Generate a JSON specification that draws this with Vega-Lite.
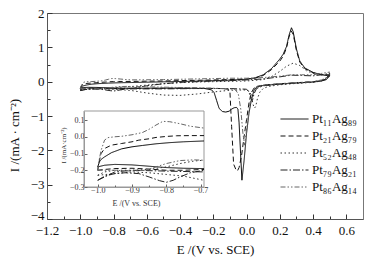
{
"$schema": "https://vega.github.io/schema/vega-lite/v6.json",
"width": 316, "height": 206,
"autosize": "none",
"padding": {"left": 47, "top": 13, "right": 17, "bottom": 42},
"background": "white",
"config": {
  "font": "Liberation Serif",
  "view": {"stroke": "#777", "strokeWidth": 1},
  "axis": {"grid": false, "labelFont": "Liberation Serif", "titleFont": "Liberation Serif", "titleFontWeight": "normal", "labelColor": "#111", "titleColor": "#111", "labelOverlap": false, "labelFlush": false}
},
"datasets": {
"cv": [
{"s":"Pt₁₁Ag₈₉","b":"f","E":-1.0,"I":-0.18},{"s":"Pt₁₁Ag₈₉","b":"f","E":-0.995,"I":-0.15},{"s":"Pt₁₁Ag₈₉","b":"f","E":-0.99,"I":-0.135},{"s":"Pt₁₁Ag₈₉","b":"f","E":-0.98,"I":-0.12},{"s":"Pt₁₁Ag₈₉","b":"f","E":-0.96,"I":-0.095},{"s":"Pt₁₁Ag₈₉","b":"f","E":-0.93,"I":-0.072},{"s":"Pt₁₁Ag₈₉","b":"f","E":-0.9,"I":-0.06},{"s":"Pt₁₁Ag₈₉","b":"f","E":-0.87,"I":-0.052},{"s":"Pt₁₁Ag₈₉","b":"f","E":-0.83,"I":-0.042},{"s":"Pt₁₁Ag₈₉","b":"f","E":-0.79,"I":-0.035},{"s":"Pt₁₁Ag₈₉","b":"f","E":-0.75,"I":-0.03},{"s":"Pt₁₁Ag₈₉","b":"f","E":-0.69,"I":-0.025},{"s":"Pt₁₁Ag₈₉","b":"f","E":-0.6,"I":-0.015},{"s":"Pt₁₁Ag₈₉","b":"f","E":-0.5,"I":-0.005},{"s":"Pt₁₁Ag₈₉","b":"f","E":-0.4,"I":0.005},{"s":"Pt₁₁Ag₈₉","b":"f","E":-0.3,"I":0.015},{"s":"Pt₁₁Ag₈₉","b":"f","E":-0.2,"I":0.03},{"s":"Pt₁₁Ag₈₉","b":"f","E":-0.1,"I":0.045},{"s":"Pt₁₁Ag₈₉","b":"f","E":0.0,"I":0.07},{"s":"Pt₁₁Ag₈₉","b":"f","E":0.05,"I":0.11},{"s":"Pt₁₁Ag₈₉","b":"f","E":0.1,"I":0.2},{"s":"Pt₁₁Ag₈₉","b":"f","E":0.15,"I":0.38},{"s":"Pt₁₁Ag₈₉","b":"f","E":0.2,"I":0.66},{"s":"Pt₁₁Ag₈₉","b":"f","E":0.22,"I":0.8},{"s":"Pt₁₁Ag₈₉","b":"f","E":0.24,"I":1.02},{"s":"Pt₁₁Ag₈₉","b":"f","E":0.255,"I":1.35},{"s":"Pt₁₁Ag₈₉","b":"f","E":0.27,"I":1.57},{"s":"Pt₁₁Ag₈₉","b":"f","E":0.28,"I":1.46},{"s":"Pt₁₁Ag₈₉","b":"f","E":0.29,"I":1.2},{"s":"Pt₁₁Ag₈₉","b":"f","E":0.3,"I":0.95},{"s":"Pt₁₁Ag₈₉","b":"f","E":0.32,"I":0.6},{"s":"Pt₁₁Ag₈₉","b":"f","E":0.35,"I":0.4},{"s":"Pt₁₁Ag₈₉","b":"f","E":0.4,"I":0.27},{"s":"Pt₁₁Ag₈₉","b":"f","E":0.45,"I":0.2},{"s":"Pt₁₁Ag₈₉","b":"f","E":0.5,"I":0.17},
{"s":"Pt₁₁Ag₈₉","b":"r","E":0.5,"I":0.17},{"s":"Pt₁₁Ag₈₉","b":"r","E":0.48,"I":0.06},{"s":"Pt₁₁Ag₈₉","b":"r","E":0.45,"I":0.02},{"s":"Pt₁₁Ag₈₉","b":"r","E":0.4,"I":-0.01},{"s":"Pt₁₁Ag₈₉","b":"r","E":0.3,"I":-0.04},{"s":"Pt₁₁Ag₈₉","b":"r","E":0.2,"I":-0.07},{"s":"Pt₁₁Ag₈₉","b":"r","E":0.1,"I":-0.11},{"s":"Pt₁₁Ag₈₉","b":"r","E":0.06,"I":-0.16},{"s":"Pt₁₁Ag₈₉","b":"r","E":0.045,"I":-0.25},{"s":"Pt₁₁Ag₈₉","b":"r","E":0.03,"I":-0.5},{"s":"Pt₁₁Ag₈₉","b":"r","E":0.015,"I":-0.9},{"s":"Pt₁₁Ag₈₉","b":"r","E":0.0,"I":-1.5},{"s":"Pt₁₁Ag₈₉","b":"r","E":-0.015,"I":-2.3},{"s":"Pt₁₁Ag₈₉","b":"r","E":-0.028,"I":-2.87},{"s":"Pt₁₁Ag₈₉","b":"r","E":-0.036,"I":-2.1},{"s":"Pt₁₁Ag₈₉","b":"r","E":-0.045,"I":-1.2},{"s":"Pt₁₁Ag₈₉","b":"r","E":-0.052,"I":-0.8},{"s":"Pt₁₁Ag₈₉","b":"r","E":-0.06,"I":-0.75},{"s":"Pt₁₁Ag₈₉","b":"r","E":-0.075,"I":-0.76},{"s":"Pt₁₁Ag₈₉","b":"r","E":-0.09,"I":-0.8},{"s":"Pt₁₁Ag₈₉","b":"r","E":-0.105,"I":-0.86},{"s":"Pt₁₁Ag₈₉","b":"r","E":-0.125,"I":-0.885},{"s":"Pt₁₁Ag₈₉","b":"r","E":-0.145,"I":-0.87},{"s":"Pt₁₁Ag₈₉","b":"r","E":-0.165,"I":-0.78},{"s":"Pt₁₁Ag₈₉","b":"r","E":-0.18,"I":-0.55},{"s":"Pt₁₁Ag₈₉","b":"r","E":-0.195,"I":-0.32},{"s":"Pt₁₁Ag₈₉","b":"r","E":-0.21,"I":-0.24},{"s":"Pt₁₁Ag₈₉","b":"r","E":-0.25,"I":-0.2},{"s":"Pt₁₁Ag₈₉","b":"r","E":-0.35,"I":-0.19},{"s":"Pt₁₁Ag₈₉","b":"r","E":-0.5,"I":-0.19},{"s":"Pt₁₁Ag₈₉","b":"r","E":-0.6,"I":-0.19},{"s":"Pt₁₁Ag₈₉","b":"r","E":-0.69,"I":-0.19},{"s":"Pt₁₁Ag₈₉","b":"r","E":-0.75,"I":-0.188},{"s":"Pt₁₁Ag₈₉","b":"r","E":-0.8,"I":-0.184},{"s":"Pt₁₁Ag₈₉","b":"r","E":-0.85,"I":-0.176},{"s":"Pt₁₁Ag₈₉","b":"r","E":-0.9,"I":-0.168},{"s":"Pt₁₁Ag₈₉","b":"r","E":-0.95,"I":-0.165},{"s":"Pt₁₁Ag₈₉","b":"r","E":-0.98,"I":-0.17},{"s":"Pt₁₁Ag₈₉","b":"r","E":-1.0,"I":-0.18},

{"s":"Pt₂₁Ag₇₉","b":"f","E":-1.0,"I":-0.2},{"s":"Pt₂₁Ag₇₉","b":"f","E":-0.995,"I":-0.14},{"s":"Pt₂₁Ag₇₉","b":"f","E":-0.99,"I":-0.1},{"s":"Pt₂₁Ag₇₉","b":"f","E":-0.98,"I":-0.07},{"s":"Pt₂₁Ag₇₉","b":"f","E":-0.96,"I":-0.05},{"s":"Pt₂₁Ag₇₉","b":"f","E":-0.93,"I":-0.04},{"s":"Pt₂₁Ag₇₉","b":"f","E":-0.9,"I":-0.03},{"s":"Pt₂₁Ag₇₉","b":"f","E":-0.88,"I":-0.02},{"s":"Pt₂₁Ag₇₉","b":"f","E":-0.85,"I":-0.012},{"s":"Pt₂₁Ag₇₉","b":"f","E":-0.83,"I":-0.004},{"s":"Pt₂₁Ag₇₉","b":"f","E":-0.8,"I":0.002},{"s":"Pt₂₁Ag₇₉","b":"f","E":-0.77,"I":0.006},{"s":"Pt₂₁Ag₇₉","b":"f","E":-0.73,"I":0.007},{"s":"Pt₂₁Ag₇₉","b":"f","E":-0.69,"I":0.007},{"s":"Pt₂₁Ag₇₉","b":"f","E":-0.6,"I":0.015},{"s":"Pt₂₁Ag₇₉","b":"f","E":-0.5,"I":0.02},{"s":"Pt₂₁Ag₇₉","b":"f","E":-0.4,"I":0.03},{"s":"Pt₂₁Ag₇₉","b":"f","E":-0.3,"I":0.04},{"s":"Pt₂₁Ag₇₉","b":"f","E":-0.2,"I":0.05},{"s":"Pt₂₁Ag₇₉","b":"f","E":-0.1,"I":0.06},{"s":"Pt₂₁Ag₇₉","b":"f","E":0.0,"I":0.08},{"s":"Pt₂₁Ag₇₉","b":"f","E":0.05,"I":0.1},{"s":"Pt₂₁Ag₇₉","b":"f","E":0.1,"I":0.18},{"s":"Pt₂₁Ag₇₉","b":"f","E":0.15,"I":0.35},{"s":"Pt₂₁Ag₇₉","b":"f","E":0.2,"I":0.6},{"s":"Pt₂₁Ag₇₉","b":"f","E":0.22,"I":0.74},{"s":"Pt₂₁Ag₇₉","b":"f","E":0.24,"I":0.98},{"s":"Pt₂₁Ag₇₉","b":"f","E":0.255,"I":1.3},{"s":"Pt₂₁Ag₇₉","b":"f","E":0.268,"I":1.48},{"s":"Pt₂₁Ag₇₉","b":"f","E":0.28,"I":1.38},{"s":"Pt₂₁Ag₇₉","b":"f","E":0.29,"I":1.15},{"s":"Pt₂₁Ag₇₉","b":"f","E":0.3,"I":0.9},{"s":"Pt₂₁Ag₇₉","b":"f","E":0.32,"I":0.57},{"s":"Pt₂₁Ag₇₉","b":"f","E":0.35,"I":0.38},{"s":"Pt₂₁Ag₇₉","b":"f","E":0.4,"I":0.26},{"s":"Pt₂₁Ag₇₉","b":"f","E":0.45,"I":0.21},{"s":"Pt₂₁Ag₇₉","b":"f","E":0.5,"I":0.2},
{"s":"Pt₂₁Ag₇₉","b":"r","E":0.5,"I":0.2},{"s":"Pt₂₁Ag₇₉","b":"r","E":0.48,"I":0.08},{"s":"Pt₂₁Ag₇₉","b":"r","E":0.45,"I":0.03},{"s":"Pt₂₁Ag₇₉","b":"r","E":0.4,"I":0.0},{"s":"Pt₂₁Ag₇₉","b":"r","E":0.3,"I":-0.03},{"s":"Pt₂₁Ag₇₉","b":"r","E":0.2,"I":-0.06},{"s":"Pt₂₁Ag₇₉","b":"r","E":0.1,"I":-0.1},{"s":"Pt₂₁Ag₇₉","b":"r","E":0.05,"I":-0.15},{"s":"Pt₂₁Ag₇₉","b":"r","E":0.03,"I":-0.3},{"s":"Pt₂₁Ag₇₉","b":"r","E":0.015,"I":-0.6},{"s":"Pt₂₁Ag₇₉","b":"r","E":0.0,"I":-1.1},{"s":"Pt₂₁Ag₇₉","b":"r","E":-0.015,"I":-1.6},{"s":"Pt₂₁Ag₇₉","b":"r","E":-0.03,"I":-2.15},{"s":"Pt₂₁Ag₇₉","b":"r","E":-0.045,"I":-2.5},{"s":"Pt₂₁Ag₇₉","b":"r","E":-0.055,"I":-2.6},{"s":"Pt₂₁Ag₇₉","b":"r","E":-0.065,"I":-2.55},{"s":"Pt₂₁Ag₇₉","b":"r","E":-0.078,"I":-2.4},{"s":"Pt₂₁Ag₇₉","b":"r","E":-0.09,"I":-1.3},{"s":"Pt₂₁Ag₇₉","b":"r","E":-0.1,"I":-0.3},{"s":"Pt₂₁Ag₇₉","b":"r","E":-0.11,"I":-0.22},{"s":"Pt₂₁Ag₇₉","b":"r","E":-0.15,"I":-0.2},{"s":"Pt₂₁Ag₇₉","b":"r","E":-0.3,"I":-0.19},{"s":"Pt₂₁Ag₇₉","b":"r","E":-0.5,"I":-0.19},{"s":"Pt₂₁Ag₇₉","b":"r","E":-0.6,"I":-0.195},{"s":"Pt₂₁Ag₇₉","b":"r","E":-0.69,"I":-0.195},{"s":"Pt₂₁Ag₇₉","b":"r","E":-0.75,"I":-0.2},{"s":"Pt₂₁Ag₇₉","b":"r","E":-0.8,"I":-0.2},{"s":"Pt₂₁Ag₇₉","b":"r","E":-0.85,"I":-0.193},{"s":"Pt₂₁Ag₇₉","b":"r","E":-0.9,"I":-0.188},{"s":"Pt₂₁Ag₇₉","b":"r","E":-0.95,"I":-0.19},{"s":"Pt₂₁Ag₇₉","b":"r","E":-0.98,"I":-0.195},{"s":"Pt₂₁Ag₇₉","b":"r","E":-1.0,"I":-0.2},

{"s":"Pt₅₂Ag₄₈","b":"f","E":-1.0,"I":-0.23},{"s":"Pt₅₂Ag₄₈","b":"f","E":-0.98,"I":-0.21},{"s":"Pt₅₂Ag₄₈","b":"f","E":-0.95,"I":-0.2},{"s":"Pt₅₂Ag₄₈","b":"f","E":-0.9,"I":-0.2},{"s":"Pt₅₂Ag₄₈","b":"f","E":-0.85,"I":-0.195},{"s":"Pt₅₂Ag₄₈","b":"f","E":-0.8,"I":-0.18},{"s":"Pt₅₂Ag₄₈","b":"f","E":-0.76,"I":-0.16},{"s":"Pt₅₂Ag₄₈","b":"f","E":-0.72,"I":-0.145},{"s":"Pt₅₂Ag₄₈","b":"f","E":-0.69,"I":-0.14},{"s":"Pt₅₂Ag₄₈","b":"f","E":-0.6,"I":-0.1},{"s":"Pt₅₂Ag₄₈","b":"f","E":-0.5,"I":-0.06},{"s":"Pt₅₂Ag₄₈","b":"f","E":-0.4,"I":-0.03},{"s":"Pt₅₂Ag₄₈","b":"f","E":-0.3,"I":-0.01},{"s":"Pt₅₂Ag₄₈","b":"f","E":-0.2,"I":0.0},{"s":"Pt₅₂Ag₄₈","b":"f","E":-0.1,"I":0.01},{"s":"Pt₅₂Ag₄₈","b":"f","E":0.0,"I":0.02},{"s":"Pt₅₂Ag₄₈","b":"f","E":0.1,"I":0.06},{"s":"Pt₅₂Ag₄₈","b":"f","E":0.15,"I":0.15},{"s":"Pt₅₂Ag₄₈","b":"f","E":0.2,"I":0.3},{"s":"Pt₅₂Ag₄₈","b":"f","E":0.24,"I":0.45},{"s":"Pt₅₂Ag₄₈","b":"f","E":0.28,"I":0.54},{"s":"Pt₅₂Ag₄₈","b":"f","E":0.32,"I":0.47},{"s":"Pt₅₂Ag₄₈","b":"f","E":0.36,"I":0.32},{"s":"Pt₅₂Ag₄₈","b":"f","E":0.4,"I":0.24},{"s":"Pt₅₂Ag₄₈","b":"f","E":0.45,"I":0.2},{"s":"Pt₅₂Ag₄₈","b":"f","E":0.5,"I":0.19},
{"s":"Pt₅₂Ag₄₈","b":"r","E":0.5,"I":0.19},{"s":"Pt₅₂Ag₄₈","b":"r","E":0.48,"I":0.08},{"s":"Pt₅₂Ag₄₈","b":"r","E":0.45,"I":0.02},{"s":"Pt₅₂Ag₄₈","b":"r","E":0.4,"I":-0.02},{"s":"Pt₅₂Ag₄₈","b":"r","E":0.3,"I":-0.05},{"s":"Pt₅₂Ag₄₈","b":"r","E":0.2,"I":-0.09},{"s":"Pt₅₂Ag₄₈","b":"r","E":0.13,"I":-0.14},{"s":"Pt₅₂Ag₄₈","b":"r","E":0.1,"I":-0.2},{"s":"Pt₅₂Ag₄₈","b":"r","E":0.08,"I":-0.3},{"s":"Pt₅₂Ag₄₈","b":"r","E":0.065,"I":-0.5},{"s":"Pt₅₂Ag₄₈","b":"r","E":0.055,"I":-0.72},{"s":"Pt₅₂Ag₄₈","b":"r","E":0.048,"I":-0.77},{"s":"Pt₅₂Ag₄₈","b":"r","E":0.04,"I":-0.68},{"s":"Pt₅₂Ag₄₈","b":"r","E":0.03,"I":-0.45},{"s":"Pt₅₂Ag₄₈","b":"r","E":0.02,"I":-0.3},{"s":"Pt₅₂Ag₄₈","b":"r","E":0.0,"I":-0.24},{"s":"Pt₅₂Ag₄₈","b":"r","E":-0.1,"I":-0.25},{"s":"Pt₅₂Ag₄₈","b":"r","E":-0.2,"I":-0.3},{"s":"Pt₅₂Ag₄₈","b":"r","E":-0.3,"I":-0.36},{"s":"Pt₅₂Ag₄₈","b":"r","E":-0.4,"I":-0.4},{"s":"Pt₅₂Ag₄₈","b":"r","E":-0.5,"I":-0.39},{"s":"Pt₅₂Ag₄₈","b":"r","E":-0.6,"I":-0.33},{"s":"Pt₅₂Ag₄₈","b":"r","E":-0.69,"I":-0.26},{"s":"Pt₅₂Ag₄₈","b":"r","E":-0.75,"I":-0.235},{"s":"Pt₅₂Ag₄₈","b":"r","E":-0.8,"I":-0.225},{"s":"Pt₅₂Ag₄₈","b":"r","E":-0.85,"I":-0.215},{"s":"Pt₅₂Ag₄₈","b":"r","E":-0.9,"I":-0.21},{"s":"Pt₅₂Ag₄₈","b":"r","E":-0.95,"I":-0.22},{"s":"Pt₅₂Ag₄₈","b":"r","E":-1.0,"I":-0.23},

{"s":"Pt₇₉Ag₂₁","b":"f","E":-1.0,"I":-0.26},{"s":"Pt₇₉Ag₂₁","b":"f","E":-0.98,"I":-0.235},{"s":"Pt₇₉Ag₂₁","b":"f","E":-0.95,"I":-0.22},{"s":"Pt₇₉Ag₂₁","b":"f","E":-0.92,"I":-0.215},{"s":"Pt₇₉Ag₂₁","b":"f","E":-0.88,"I":-0.22},{"s":"Pt₇₉Ag₂₁","b":"f","E":-0.85,"I":-0.24},{"s":"Pt₇₉Ag₂₁","b":"f","E":-0.82,"I":-0.262},{"s":"Pt₇₉Ag₂₁","b":"f","E":-0.8,"I":-0.272},{"s":"Pt₇₉Ag₂₁","b":"f","E":-0.78,"I":-0.26},{"s":"Pt₇₉Ag₂₁","b":"f","E":-0.76,"I":-0.24},{"s":"Pt₇₉Ag₂₁","b":"f","E":-0.73,"I":-0.215},{"s":"Pt₇₉Ag₂₁","b":"f","E":-0.69,"I":-0.2},{"s":"Pt₇₉Ag₂₁","b":"f","E":-0.6,"I":-0.12},{"s":"Pt₇₉Ag₂₁","b":"f","E":-0.5,"I":-0.06},{"s":"Pt₇₉Ag₂₁","b":"f","E":-0.4,"I":-0.02},{"s":"Pt₇₉Ag₂₁","b":"f","E":-0.3,"I":0.0},{"s":"Pt₇₉Ag₂₁","b":"f","E":-0.2,"I":0.02},{"s":"Pt₇₉Ag₂₁","b":"f","E":-0.1,"I":0.03},{"s":"Pt₇₉Ag₂₁","b":"f","E":0.0,"I":0.05},{"s":"Pt₇₉Ag₂₁","b":"f","E":0.1,"I":0.08},{"s":"Pt₇₉Ag₂₁","b":"f","E":0.2,"I":0.14},{"s":"Pt₇₉Ag₂₁","b":"f","E":0.27,"I":0.19},{"s":"Pt₇₉Ag₂₁","b":"f","E":0.33,"I":0.18},{"s":"Pt₇₉Ag₂₁","b":"f","E":0.4,"I":0.17},{"s":"Pt₇₉Ag₂₁","b":"f","E":0.45,"I":0.2},{"s":"Pt₇₉Ag₂₁","b":"f","E":0.5,"I":0.24},
{"s":"Pt₇₉Ag₂₁","b":"r","E":0.5,"I":0.24},{"s":"Pt₇₉Ag₂₁","b":"r","E":0.48,"I":0.1},{"s":"Pt₇₉Ag₂₁","b":"r","E":0.45,"I":0.03},{"s":"Pt₇₉Ag₂₁","b":"r","E":0.4,"I":-0.01},{"s":"Pt₇₉Ag₂₁","b":"r","E":0.3,"I":-0.04},{"s":"Pt₇₉Ag₂₁","b":"r","E":0.2,"I":-0.07},{"s":"Pt₇₉Ag₂₁","b":"r","E":0.1,"I":-0.12},{"s":"Pt₇₉Ag₂₁","b":"r","E":0.06,"I":-0.2},{"s":"Pt₇₉Ag₂₁","b":"r","E":0.045,"I":-0.35},{"s":"Pt₇₉Ag₂₁","b":"r","E":0.035,"I":-0.55},{"s":"Pt₇₉Ag₂₁","b":"r","E":0.025,"I":-0.5},{"s":"Pt₇₉Ag₂₁","b":"r","E":0.015,"I":-0.3},{"s":"Pt₇₉Ag₂₁","b":"r","E":0.0,"I":-0.22},{"s":"Pt₇₉Ag₂₁","b":"r","E":-0.1,"I":-0.2},{"s":"Pt₇₉Ag₂₁","b":"r","E":-0.3,"I":-0.2},{"s":"Pt₇₉Ag₂₁","b":"r","E":-0.5,"I":-0.21},{"s":"Pt₇₉Ag₂₁","b":"r","E":-0.69,"I":-0.21},{"s":"Pt₇₉Ag₂₁","b":"r","E":-0.8,"I":-0.205},{"s":"Pt₇₉Ag₂₁","b":"r","E":-0.9,"I":-0.2},{"s":"Pt₇₉Ag₂₁","b":"r","E":-0.95,"I":-0.21},{"s":"Pt₇₉Ag₂₁","b":"r","E":-1.0,"I":-0.26},

{"s":"Pt₈₆Ag₁₄","b":"f","E":-1.0,"I":-0.2},{"s":"Pt₈₆Ag₁₄","b":"f","E":-0.995,"I":-0.13},{"s":"Pt₈₆Ag₁₄","b":"f","E":-0.99,"I":-0.08},{"s":"Pt₈₆Ag₁₄","b":"f","E":-0.98,"I":-0.02},{"s":"Pt₈₆Ag₁₄","b":"f","E":-0.97,"I":-0.005},{"s":"Pt₈₆Ag₁₄","b":"f","E":-0.95,"I":0.0},{"s":"Pt₈₆Ag₁₄","b":"f","E":-0.93,"I":0.003},{"s":"Pt₈₆Ag₁₄","b":"f","E":-0.9,"I":0.012},{"s":"Pt₈₆Ag₁₄","b":"f","E":-0.87,"I":0.025},{"s":"Pt₈₆Ag₁₄","b":"f","E":-0.85,"I":0.045},{"s":"Pt₈₆Ag₁₄","b":"f","E":-0.83,"I":0.07},{"s":"Pt₈₆Ag₁₄","b":"f","E":-0.81,"I":0.092},{"s":"Pt₈₆Ag₁₄","b":"f","E":-0.79,"I":0.09},{"s":"Pt₈₆Ag₁₄","b":"f","E":-0.76,"I":0.078},{"s":"Pt₈₆Ag₁₄","b":"f","E":-0.73,"I":0.063},{"s":"Pt₈₆Ag₁₄","b":"f","E":-0.69,"I":0.052},{"s":"Pt₈₆Ag₁₄","b":"f","E":-0.6,"I":0.055},{"s":"Pt₈₆Ag₁₄","b":"f","E":-0.5,"I":0.06},{"s":"Pt₈₆Ag₁₄","b":"f","E":-0.4,"I":0.07},{"s":"Pt₈₆Ag₁₄","b":"f","E":-0.3,"I":0.08},{"s":"Pt₈₆Ag₁₄","b":"f","E":-0.2,"I":0.09},{"s":"Pt₈₆Ag₁₄","b":"f","E":-0.1,"I":0.1},{"s":"Pt₈₆Ag₁₄","b":"f","E":0.0,"I":0.1},{"s":"Pt₈₆Ag₁₄","b":"f","E":0.1,"I":0.12},{"s":"Pt₈₆Ag₁₄","b":"f","E":0.2,"I":0.16},{"s":"Pt₈₆Ag₁₄","b":"f","E":0.27,"I":0.2},{"s":"Pt₈₆Ag₁₄","b":"f","E":0.33,"I":0.2},{"s":"Pt₈₆Ag₁₄","b":"f","E":0.4,"I":0.2},{"s":"Pt₈₆Ag₁₄","b":"f","E":0.45,"I":0.24},{"s":"Pt₈₆Ag₁₄","b":"f","E":0.5,"I":0.28},
{"s":"Pt₈₆Ag₁₄","b":"r","E":0.5,"I":0.28},{"s":"Pt₈₆Ag₁₄","b":"r","E":0.48,"I":0.12},{"s":"Pt₈₆Ag₁₄","b":"r","E":0.45,"I":0.05},{"s":"Pt₈₆Ag₁₄","b":"r","E":0.4,"I":0.0},{"s":"Pt₈₆Ag₁₄","b":"r","E":0.3,"I":-0.03},{"s":"Pt₈₆Ag₁₄","b":"r","E":0.2,"I":-0.06},{"s":"Pt₈₆Ag₁₄","b":"r","E":0.1,"I":-0.1},{"s":"Pt₈₆Ag₁₄","b":"r","E":0.05,"I":-0.16},{"s":"Pt₈₆Ag₁₄","b":"r","E":0.035,"I":-0.3},{"s":"Pt₈₆Ag₁₄","b":"r","E":0.02,"I":-0.65},{"s":"Pt₈₆Ag₁₄","b":"r","E":0.005,"I":-1.2},{"s":"Pt₈₆Ag₁₄","b":"r","E":-0.012,"I":-1.85},{"s":"Pt₈₆Ag₁₄","b":"r","E":-0.022,"I":-1.5},{"s":"Pt₈₆Ag₁₄","b":"r","E":-0.035,"I":-0.8},{"s":"Pt₈₆Ag₁₄","b":"r","E":-0.05,"I":-0.35},{"s":"Pt₈₆Ag₁₄","b":"r","E":-0.07,"I":-0.22},{"s":"Pt₈₆Ag₁₄","b":"r","E":-0.2,"I":-0.19},{"s":"Pt₈₆Ag₁₄","b":"r","E":-0.4,"I":-0.17},{"s":"Pt₈₆Ag₁₄","b":"r","E":-0.6,"I":-0.15},{"s":"Pt₈₆Ag₁₄","b":"r","E":-0.69,"I":-0.14},{"s":"Pt₈₆Ag₁₄","b":"r","E":-0.72,"I":-0.138},{"s":"Pt₈₆Ag₁₄","b":"r","E":-0.76,"I":-0.142},{"s":"Pt₈₆Ag₁₄","b":"r","E":-0.8,"I":-0.16},{"s":"Pt₈₆Ag₁₄","b":"r","E":-0.83,"I":-0.18},{"s":"Pt₈₆Ag₁₄","b":"r","E":-0.86,"I":-0.2},{"s":"Pt₈₆Ag₁₄","b":"r","E":-0.9,"I":-0.205},{"s":"Pt₈₆Ag₁₄","b":"r","E":-0.95,"I":-0.2},{"s":"Pt₈₆Ag₁₄","b":"r","E":-0.98,"I":-0.2},{"s":"Pt₈₆Ag₁₄","b":"r","E":-1.0,"I":-0.2}
],
"frame": [{"name": "inset"}]
},
"data": {"name": "cv"},
"layer": [
  {
    "mark": {"type": "line", "strokeWidth": 1},
    "encoding": {
      "x": {"field": "E", "type": "quantitative",
        "scale": {"domain": [-1.2, 0.7], "nice": false, "zero": false},
        "axis": {"orient": "bottom",
          "values": [-1.2,-1.1,-1,-0.9,-0.8,-0.7,-0.6,-0.5,-0.4,-0.3,-0.2,-0.1,0,0.1,0.2,0.3,0.4,0.5,0.6],
          "format": ".1f",
          "labelExpr": "round(datum.value*10) % 2 === 0 ? datum.label : ''",
          "tickSize": {"condition": {"test": "round(datum.value*10) % 2 === 0", "value": -5}, "value": -3},
          "tickColor": "#333", "domainColor": "#555",
          "labelFontSize": 13, "labelPadding": 10,
          "title": "E /(V vs. SCE)", "titleFontSize": 13, "titleX": 168, "titleY": 24, "titleBaseline": "top"}},
      "y": {"field": "I", "type": "quantitative",
        "scale": {"domain": [-4, 2], "nice": false, "zero": false},
        "axis": {"orient": "left",
          "values": [-4,-3.5,-3,-2.5,-2,-1.5,-1,-0.5,0,0.5,1,1.5,2],
          "format": ".1~f",
          "labelExpr": "datum.value % 1 === 0 ? datum.label : ''",
          "labelBaseline": {"condition": {"test": "datum.value === -4", "value": "alphabetic"}, "value": "middle"},
          "tickSize": {"condition": {"test": "datum.value % 1 === 0", "value": -5}, "value": -3},
          "tickColor": "#333", "domainColor": "#555",
          "labelFontSize": 13, "labelPadding": 8,
          "title": "I /(mA · cm⁻²)", "titleFontSize": 13, "titleX": -33, "titleY": 122, "titleAngle": -90, "titleBaseline": "middle", "titleAlign": "center"}},
      "detail": {"field": "b"},
      "strokeDash": {"field": "s", "type": "nominal",
        "scale": {"domain": ["Pt₁₁Ag₈₉","Pt₂₁Ag₇₉","Pt₅₂Ag₄₈","Pt₇₉Ag₂₁","Pt₈₆Ag₁₄"], "range": [[1,0],[5,3],[1.5,2.5],[7,2,1.5,2],[5,2,1.5,2,1.5,2]]},
        "legend": {"orient": "none", "legendX": 233, "legendY": 99, "title": null, "symbolType": "stroke", "symbolSize": 784, "symbolStrokeWidth": 1, "labelFontSize": 13, "labelFont": "Liberation Serif", "labelColor": "#111", "clipHeight": 14, "rowPadding": 3, "labelOffset": 3}},
      "color": {"field": "s", "type": "nominal",
        "scale": {"domain": ["Pt₁₁Ag₈₉","Pt₂₁Ag₇₉","Pt₅₂Ag₄₈","Pt₇₉Ag₂₁","Pt₈₆Ag₁₄"], "range": ["#000000","#111111","#333333","#222222","#666666"]},
        "legend": {"orient": "none", "legendX": 233, "legendY": 99, "title": null, "symbolType": "stroke", "symbolSize": 784, "symbolStrokeWidth": 1, "labelFontSize": 13, "labelFont": "Liberation Serif", "labelColor": "#111", "clipHeight": 14, "rowPadding": 3, "labelOffset": 3}}
    }
  },
  {
    "layer": [
      {
        "data": {"name": "frame"},
        "mark": {"type": "rect", "fill": "white", "stroke": "#999999", "strokeWidth": 1},
        "encoding": {
          "x": {"datum": -1.04, "type": "quantitative"},
          "x2": {"datum": -0.69},
          "y": {"datum": -0.3, "type": "quantitative"},
          "y2": {"datum": 0.154}
        }
      },
      {
        "transform": [{"filter": "datum.E <= -0.689"}],
        "mark": {"type": "line", "strokeWidth": 1},
        "encoding": {
          "x": {"field": "E", "type": "quantitative",
            "scale": {"domain": [-1.04, -0.69], "range": [37, 157], "nice": false, "zero": false},
            "axis": {"orient": "bottom", "offset": -32, "zindex": 1,
              "values": [-1,-0.95,-0.9,-0.85,-0.8,-0.75,-0.7],
              "format": ".1f",
              "labelExpr": "round(datum.value*20) % 2 === 0 ? datum.label : ''",
              "tickSize": {"condition": {"test": "round(datum.value*20) % 2 === 0", "value": -3}, "value": -2},
              "tickColor": "#666", "domainColor": "#999",
              "labelFontSize": 8, "labelPadding": 2, "labelColor": "#333",
              "title": "E /(V vs. SCE)", "titleFontSize": 8, "titleColor": "#333", "titleX": 89, "titleY": 16, "titleBaseline": "middle"}},
          "y": {"field": "I", "type": "quantitative",
            "scale": {"domain": [-0.3, 0.154], "range": [174, 98], "nice": false, "zero": false},
            "axis": {"orient": "left", "offset": -37, "zindex": 1,
              "values": [-0.3,-0.25,-0.2,-0.15,-0.1,-0.05,0,0.05,0.1],
              "format": ".1f",
              "labelExpr": "round(datum.value*20) % 2 === 0 ? datum.label : ''",
              "tickSize": {"condition": {"test": "round(datum.value*20) % 2 === 0", "value": -3}, "value": -2},
              "tickColor": "#666", "domainColor": "#999",
              "labelFontSize": 8, "labelPadding": 3, "labelColor": "#333",
              "title": "I /(mA·cm⁻²)", "titleFontSize": 7, "titleColor": "#333", "titleX": -21, "titleY": 132, "titleAngle": -90, "titleBaseline": "middle", "titleAlign": "center"}},
          "detail": {"field": "b"},
          "strokeDash": {"field": "s", "type": "nominal"},
          "color": {"field": "s", "type": "nominal"}
        }
      }
    ]
  }
],
"resolve": {"scale": {"x": "independent", "y": "independent"}}
}
